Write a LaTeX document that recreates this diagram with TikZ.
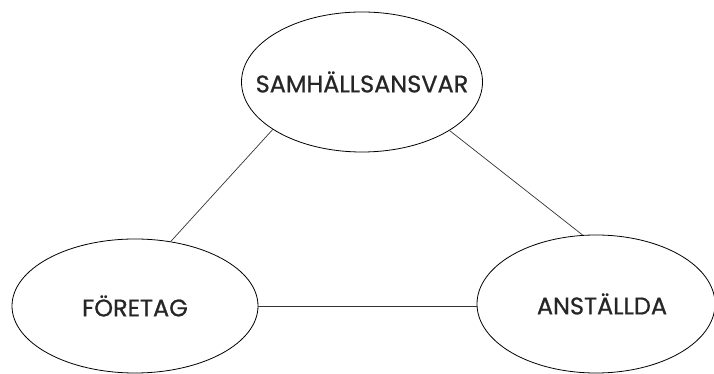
\documentclass[tikz,border=0pt]{standalone}
\usepackage{fontspec}
\setmainfont{Poppins}
\newfontfamily\lblfont{Poppins}[FakeBold=0.8]
\usetikzlibrary{shapes.geometric}
\begin{document}
\begin{tikzpicture}[x=1pt,y=1pt,
  blob/.style={ellipse, draw=black, line width=0.8pt, fill=white, inner sep=0pt},
  word/.style={font=\lblfont\fontsize{24}{27}\selectfont, text=black!85, inner sep=0pt},
  link/.style={draw=black!80, line width=0.7pt}]
  \useasboundingbox (0,0) rectangle (714,374);
  % the three ellipses, each with its word set on top
  \node[blob, minimum width=241, minimum height=140,
        label={[word, name=samhtxt]center:SAMHÄLLSANSVAR}] (samh) at (362,292) {};
  \node[blob, minimum width=246, minimum height=134,
        label={[word, name=forettxt]center:FÖRETAG}] (foret) at (135,68) {};
  \node[blob, minimum width=238, minimum height=138,
        label={[word, name=ansttxt, xshift=6pt]center:ANSTÄLLDA}] (anst) at (596,70) {};
  % connecting lines
  \draw[link] (samh.208) -- (foret.61);
  \draw[link] (samh.331) -- (anst.101);
  \draw[link] (foret.east) -- (foret.east -| anst.west);
\end{tikzpicture}
\end{document}
